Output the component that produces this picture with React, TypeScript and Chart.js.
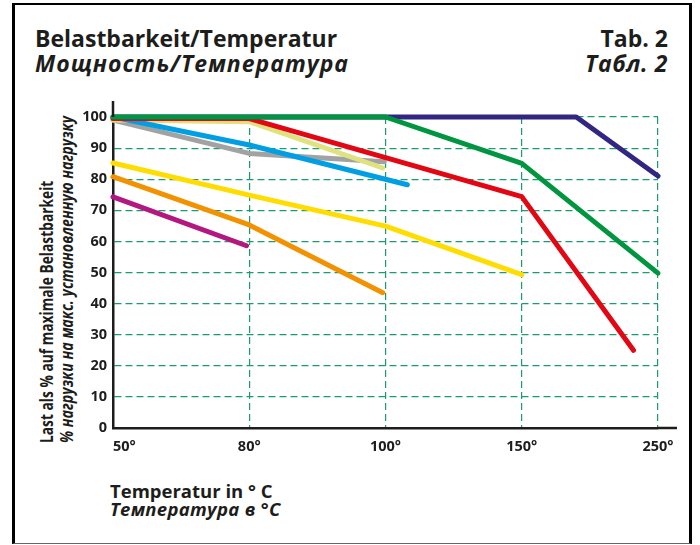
import React, { useEffect, useRef } from "react";
import { Chart, registerables } from "chart.js";

Chart.register(...registerables);

// x positions are indices of the (equally spaced) temperature ticks
const X_TICK_LABELS = ["50°", "80°", "100°", "150°", "250°"];
const Y_MIN = 0;
const Y_MAX = 100;
const Y_STEP = 10;

// series: [tickIndex, percent]
const GREEN = [[0, 100], [2, 100], [3, 85.1], [4, 49.8]];
const NAVY = [[0, 100], [3.4, 100], [4, 81]];
const RED = [[0, 99.5], [1, 99.5], [3, 74.4], [3.82, 25]];
const KHAKI = [[0, 99], [1, 98.5], [1.98, 83.6]];
const CYAN = [[0, 100], [1, 91], [2.16, 78.2]];
const GRAY = [[0, 99], [1, 88.3], [1.99, 85.6]];
const YELLOW = [[0, 85.2], [1, 74.9], [2, 64.9], [3, 49.3]];
const ORANGE = [[0, 80.8], [1, 65.3], [1.98, 43.5]];
const MAGENTA = [[0, 74.3], [0.98, 58.6]];

const SERIES = [
  { data: GREEN, color: "#009640" },
  { data: NAVY, color: "#312783" },
  { data: RED, color: "#e30613" },
  { data: CYAN, color: "#009fe3" },
  { data: KHAKI, color: "#dfe27e" },
  { data: GRAY, color: "#a2a2a2" },
  { data: YELLOW, color: "#ffdd00" },
  { data: ORANGE, color: "#f39200" },
  { data: MAGENTA, color: "#b2187f" },
];

const FONT = '"Open Sans", "DejaVu Sans", sans-serif';
const INK = "#1d1d1b";
const GRID = "#1a9c6c";

const extras = {
  id: "extras",
  afterDraw(chart: any) {
    const { ctx, chartArea, scales } = chart;
    ctx.save();
    ctx.strokeStyle = INK;
    ctx.lineWidth = 2.5;
    ctx.beginPath();
    ctx.moveTo(chartArea.left, chartArea.top);
    ctx.lineTo(chartArea.left, chartArea.top - 16);
    ctx.moveTo(chartArea.right, chartArea.bottom);
    ctx.lineTo(chartArea.right + 19, chartArea.bottom);
    ctx.stroke();
    ctx.fillStyle = INK;
    ctx.font = `bold 14.5px ${FONT}`;
    ctx.textBaseline = "middle";
    X_TICK_LABELS.forEach((t, i) => {
      const px = scales.x.getPixelForValue(i);
      ctx.textAlign = i === 0 ? "left" : "center";
      ctx.fillText(t, px, chartArea.bottom + 19);
    });
    ctx.restore();
  },
};

export default function App() {
  const ref = useRef<HTMLCanvasElement | null>(null);
  useEffect(() => {
    if (!ref.current) return;
    const chart = new Chart(ref.current, {
      type: "line",
      data: {
        datasets: SERIES.map((s) => ({
          data: s.data.map(([x, y]) => ({ x, y })),
          borderColor: s.color,
          backgroundColor: s.color,
          borderWidth: 5,
          borderCapStyle: "round",
          borderJoinStyle: "round",
          pointRadius: 0,
          tension: 0,
          clip: false,
        })),
      },
      options: {
        animation: false,
        responsive: false,
        maintainAspectRatio: false,
        events: [],
        layout: { padding: { left: 0, top: 117, right: 42, bottom: 77 } },
        plugins: { legend: { display: false }, tooltip: { enabled: false } },
        scales: {
          x: {
            type: "linear",
            min: 0,
            max: X_TICK_LABELS.length - 1,
            ticks: { display: false, stepSize: 1 },
            grid: { color: GRID, lineWidth: 1.2, drawTicks: false },
            border: { display: true, color: INK, width: 2.5, dash: [7, 4] },
            afterFit: (s: any) => {
              s.height = 40;
            },
          },
          y: {
            min: Y_MIN,
            max: Y_MAX,
            ticks: {
              stepSize: Y_STEP,
              padding: 6,
              color: INK,
              font: { family: FONT, weight: "bold", size: 14.5 },
            },
            grid: { color: GRID, lineWidth: 1.2, drawTicks: false },
            border: { display: true, color: INK, width: 2.5, dash: [7, 4] },
            afterFit: (s: any) => {
              s.width = 113;
            },
          },
        },
      },
      plugins: [extras],
    } as any);
    return () => chart.destroy();
  }, []);

  const abs = (o: React.CSSProperties): React.CSSProperties => ({
    position: "absolute",
    whiteSpace: "nowrap",
    color: INK,
    fontFamily: FONT,
    fontWeight: 700,
    margin: 0,
    ...o,
  });

  return (
    <div style={{ position: "absolute", left: 0, top: 0, width: 700, height: 545, overflow: "hidden", background: "#fff" }}>
      <div
        style={{
          position: "absolute",
          left: 12,
          top: 3,
          width: 680,
          height: 541,
          boxSizing: "border-box",
          borderLeft: "3px solid #000",
          borderRight: "3px solid #000",
          borderTop: "2px solid #000",
          borderBottom: "1.5px solid #666",
        }}
      />
      <div style={abs({ left: 35, top: 26, fontSize: 23, lineHeight: "24px" })}>Belastbarkeit/Temperatur</div>
      <div style={abs({ left: 35, top: 51, fontSize: 23, lineHeight: "24px", fontStyle: "italic", letterSpacing: "1px" })}>
        Мощность/Температура
      </div>
      <div style={abs({ right: 32, top: 26, fontSize: 23, lineHeight: "24px", textAlign: "right" })}>Tab. 2</div>
      <div style={abs({ right: 32, top: 51, fontSize: 23, lineHeight: "24px", fontStyle: "italic", textAlign: "right", letterSpacing: "0.6px" })}>
        Табл. 2
      </div>
      <div
        style={abs({
          left: 37,
          top: 443,
          fontSize: 17,
          lineHeight: "20px",
          transformOrigin: "0 0",
          transform: "rotate(-90deg) scaleX(0.81)",
        })}
      >
        Last als % auf maximale Belastbarkeit
      </div>
      <div
        style={abs({
          left: 57,
          top: 443,
          fontSize: 17,
          lineHeight: "20px",
          fontStyle: "italic",
          transformOrigin: "0 0",
          transform: "rotate(-90deg) scaleX(0.835)",
        })}
      >
        % нагрузки на макс. установленную нагрузку
      </div>
      <div style={abs({ left: 110, top: 481, fontSize: 18.5, lineHeight: "19px" })}>Temperatur in ° C</div>
      <div style={abs({ left: 110, top: 499, fontSize: 18.5, lineHeight: "19px", fontStyle: "italic", letterSpacing: "0.3px" })}>
        Температура в °C
      </div>
      <canvas ref={ref} width={700} height={545} style={{ position: "absolute", left: 0, top: 0, width: 700, height: 545 }} />
    </div>
  );
}
